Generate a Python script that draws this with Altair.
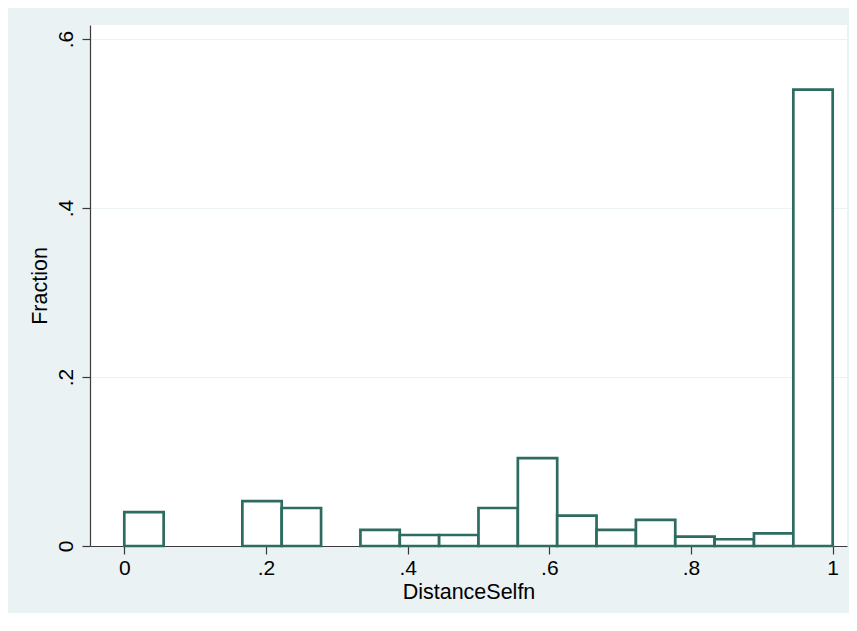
import altair as alt
import pandas as pd

# 18 equal-width bins over [0, 1]
n_bins = 18
bin_start = [i / n_bins for i in range(n_bins)]
bin_end = [(i + 1) / n_bins for i in range(n_bins)]
fraction = [0.040, 0.0, 0.0, 0.053, 0.045, 0.0, 0.019, 0.013, 0.013,
            0.045, 0.104, 0.036, 0.019, 0.031, 0.011, 0.008, 0.015, 0.540]

x_ticks = [0, 0.2, 0.4, 0.6, 0.8, 1]
y_ticks = [0, 0.2, 0.4, 0.6]

df = pd.DataFrame({"start": bin_start, "end": bin_end, "frac": fraction})
df = df[df["frac"] > 0]

FONT = "Liberation Sans"
label_expr = "datum.value == 0 ? '0' : datum.value == 1 ? '1' : '.' + format(datum.value * 10, '.0f')"

W, H = 757, 521

bars = alt.Chart(df).mark_rect(
    fill="white", stroke="#2e6b60", strokeWidth=2.7
).encode(
    x=alt.X("start:Q",
            scale=alt.Scale(domain=[-0.0484, 1.0202], nice=False, zero=False),
            axis=alt.Axis(values=x_ticks, labelExpr=label_expr, grid=False,
                          title="DistanceSelfn", tickSize=8, labelPadding=3,
                          labelFontSize=21, titleFontSize=21.5, labelFont=FONT, titleFont=FONT,
                          labelColor="black", titleColor="black", titleFontWeight="normal",
                          domainColor="#3a3a3a", tickColor="#3a3a3a", domainWidth=1.2, tickWidth=1.2,
                          titleX=W / 2, titleY=52, titleBaseline="alphabetic", titleAlign="center",
                          labelFlush=False, labelOverlap=False)),
    x2="end:Q",
    y=alt.Y("frac:Q",
            scale=alt.Scale(domain=[0, 0.6166], nice=False),
            axis=alt.Axis(values=y_ticks, labelExpr=label_expr, grid=True,
                          gridColor="#eaf2f3", gridWidth=1.2,
                          title="Fraction", tickSize=8, labelPadding=6,
                          labelAngle=270, labelAlign="center", labelBaseline="bottom",
                          labelFontSize=21, titleFontSize=21.5, labelFont=FONT, titleFont=FONT,
                          labelColor="black", titleColor="black", titleFontWeight="normal",
                          domainColor="#3a3a3a", tickColor="#3a3a3a", domainWidth=1.2, tickWidth=1.2,
                          titleAngle=270, titleX=-44, titleY=H / 2, titleBaseline="alphabetic",
                          titleAlign="center", labelFlush=False, labelOverlap=False)),
    y2=alt.datum(0),
)

chart = bars.properties(
    width=W, height=H,
    autosize=alt.AutoSizeParams(type="none"),
    padding={"left": 82, "top": 17, "right": 2, "bottom": 67},
    background="#eaf2f3",
).configure_view(fill="white", strokeWidth=0)

chart.save("out.html", embed_options={"renderer": "svg", "actions": False})
